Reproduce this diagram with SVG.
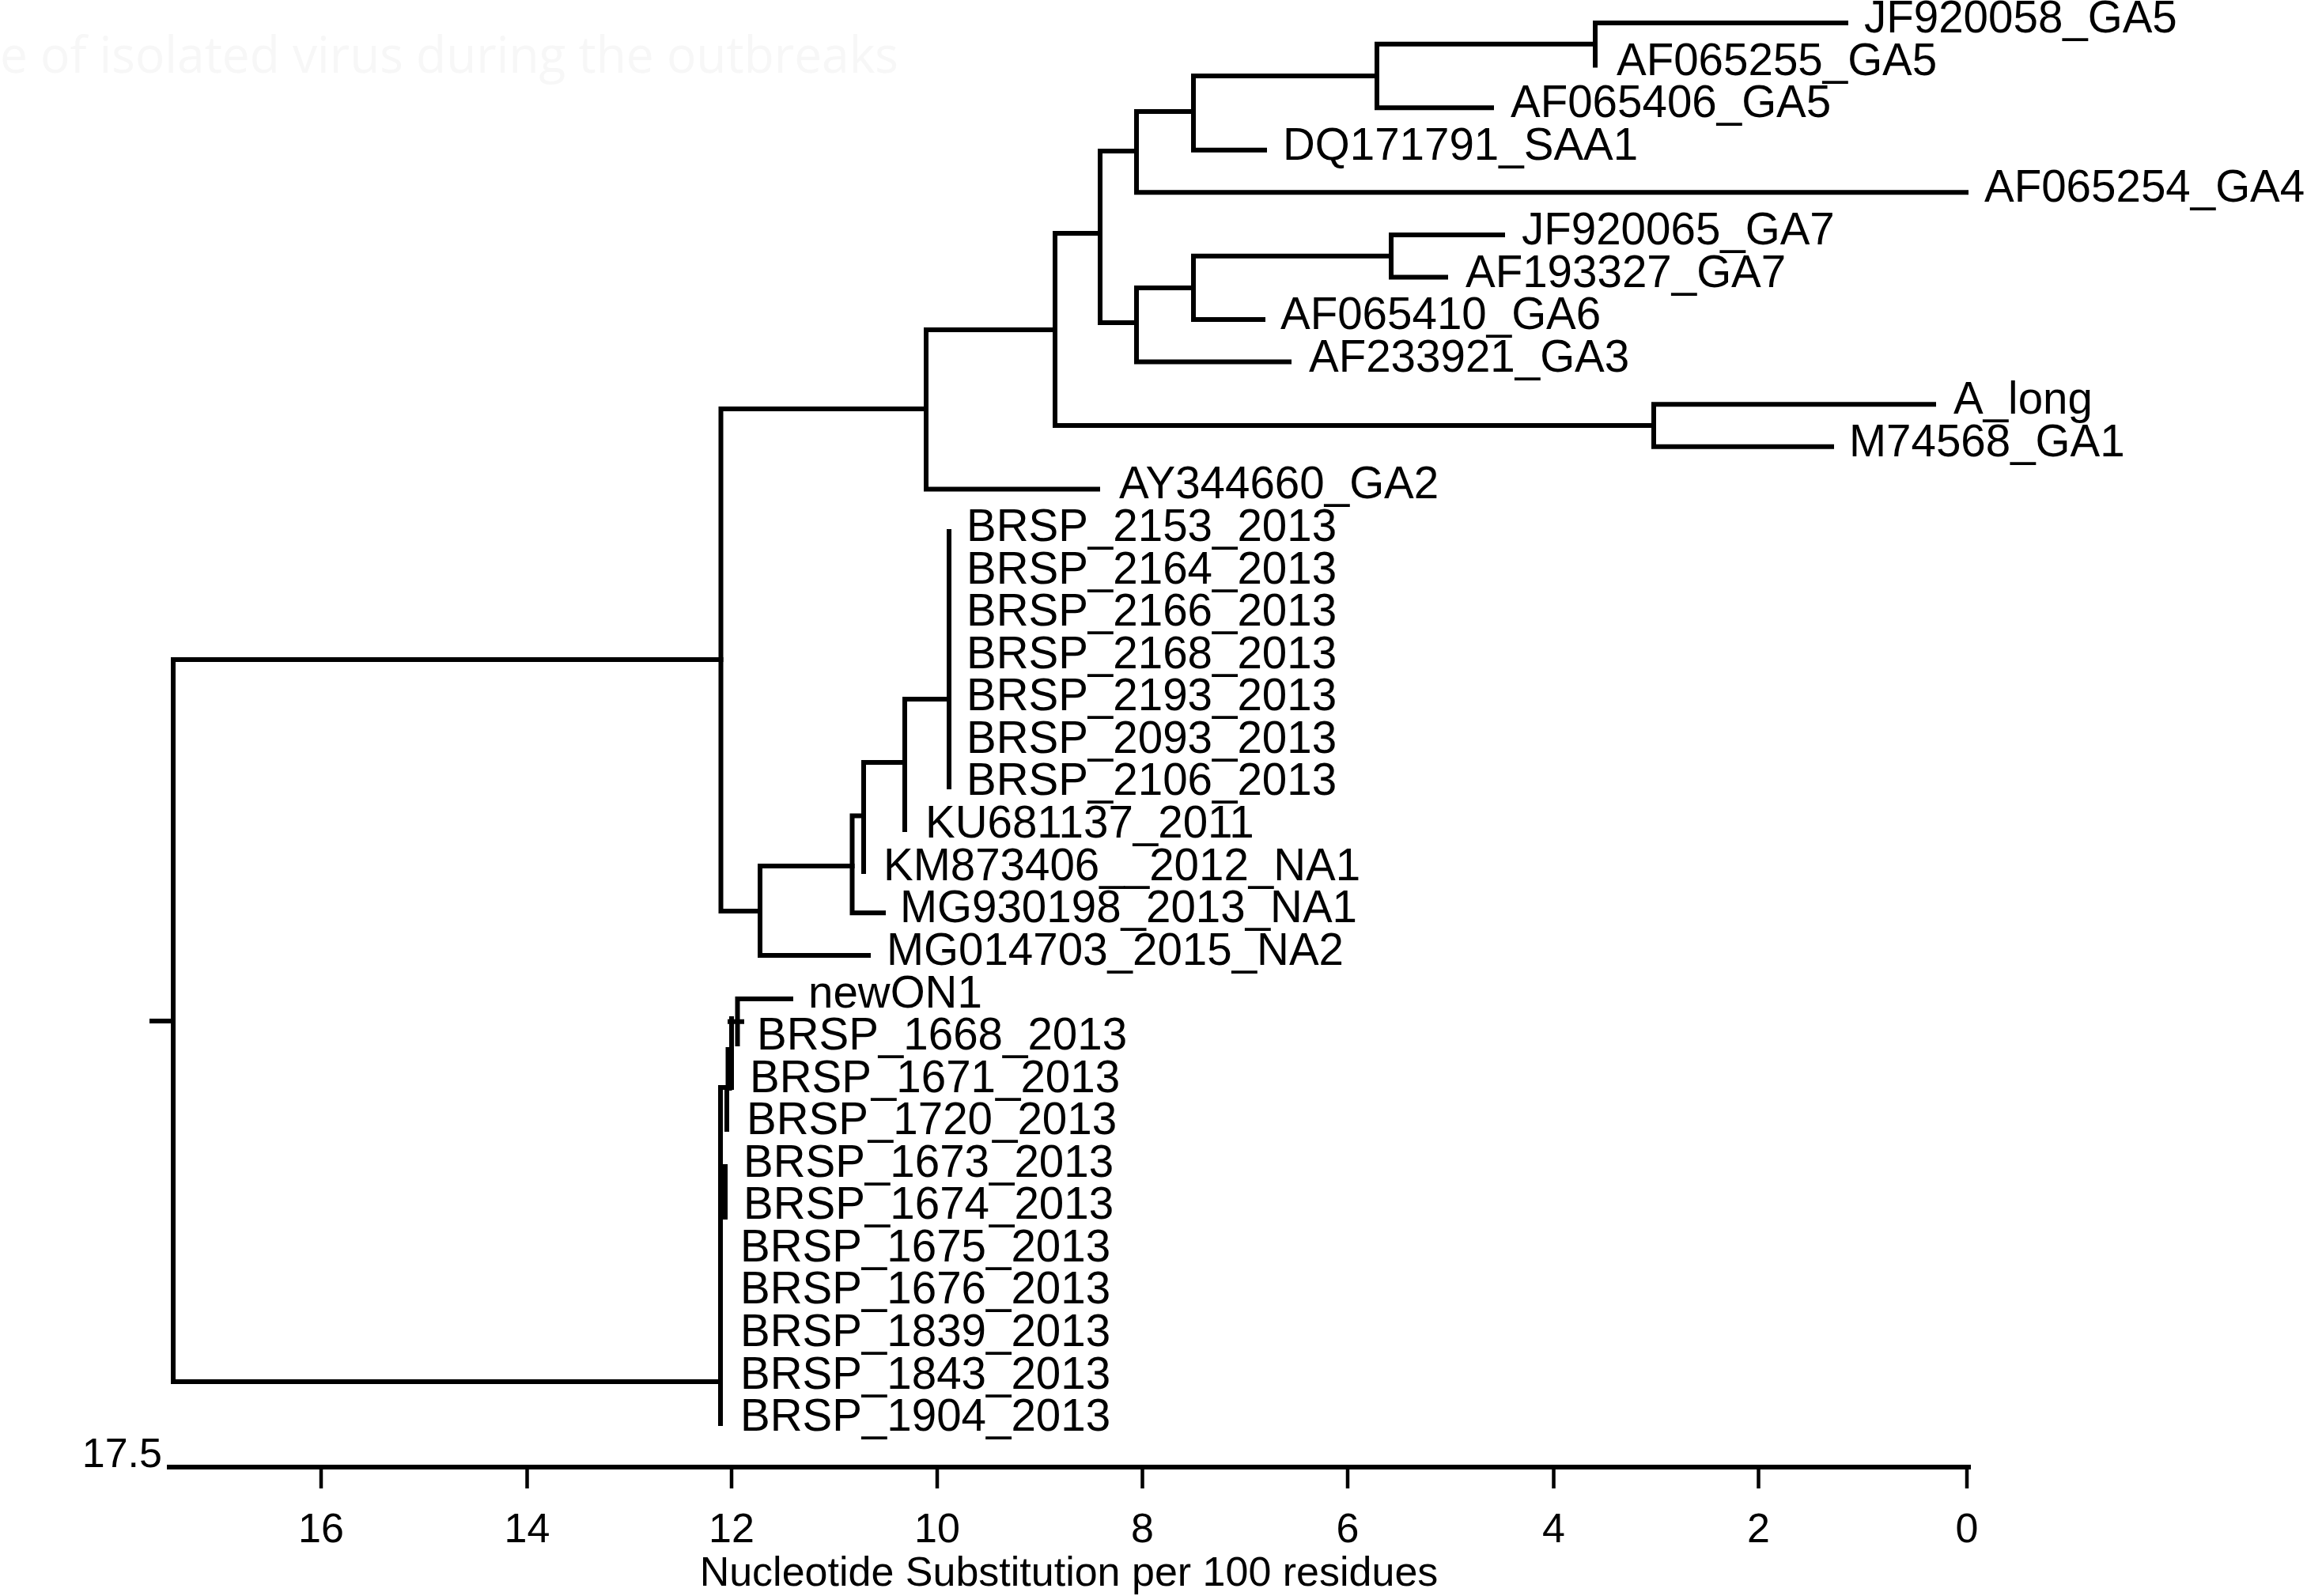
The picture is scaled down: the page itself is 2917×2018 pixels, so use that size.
<svg xmlns="http://www.w3.org/2000/svg" width="2917" height="2018" viewBox="0 0 2917 2018">
<style>
.br{fill:none;stroke:#000;stroke-width:6;stroke-linecap:square}
.lb{font-family:"Liberation Sans",Arial,sans-serif;font-size:56.5px;fill:#000}
.ax{font-family:"Liberation Sans",Arial,sans-serif;font-size:52px;fill:#000}
.tk{fill:none;stroke:#000;stroke-width:4.5}
</style>
<rect width="2917" height="2018" fill="#fff"/>
<text x="0" y="92" font-family="'Open Sans',sans-serif" font-size="64" fill="#f7f7f7" textLength="1136" lengthAdjust="spacingAndGlyphs">e of isolated virus during the outbreaks</text>
<g id="connectors">
<path class="br" d="M192,1291H219M219,834V1747M219,834H911.5M219,1747H911"/>
<path class="br" d="M911.5,517V1152M911.5,517H1171M911.5,1152H961"/>
<path class="br" d="M1171,417V618.4M1171,417H1334M1171,618.4H1388"/>
<path class="br" d="M1334,295V538M1334,295H1391M1334,538H2091"/>
<path class="br" d="M2091,511.2V564.8M2091,511.2H2445M2091,564.8H2316"/>
<path class="br" d="M1391,191V408M1391,191H1437M1391,408H1437"/>
<path class="br" d="M1437,141V243.3M1437,141H1509M1437,243.3H2486"/>
<path class="br" d="M1509,96V189.7M1509,96H1741M1509,189.7H1599"/>
<path class="br" d="M1741,55.8V136.2M1741,55.8H2017M1741,136.2H1886"/>
<path class="br" d="M2017,29V82.6M2017,29H2334"/>
<path class="br" d="M1437,364V457.6M1437,364H1509M1437,457.6H1630"/>
<path class="br" d="M1509,323.7V404.1M1509,323.7H1759M1509,404.1H1597"/>
<path class="br" d="M1759,296.9V350.5M1759,296.9H1900M1759,350.5H1828"/>
<path class="br" d="M961,1095V1208M961,1095H1077.5M961,1208H1098"/>
<path class="br" d="M1077.5,1031.5V1154.2M1077.5,1031.5H1092M1077.5,1154.2H1117"/>
<path class="br" d="M1092,964V1102M1092,964H1144"/>
<path class="br" d="M1144,884V1049M1144,884H1200"/>
<path class="br" d="M1200,672V995"/>
<path class="br" d="M911,1375V1800M919,1375V1428M911,1375H925M925,1288V1375M923,1291.7H938M932.5,1263V1320M932.5,1263H1000"/>
<path class="br" style="stroke-width:10" d="M915,1477V1537"/>
<path class="br" style="stroke-width:8" d="M921.5,1328V1375"/>
</g>
<g id="leaves">
<g id="n-JF920058_GA5"><text class="lb" x="2357" y="41">JF920058_GA5</text></g>
<g id="n-AF065255_GA5"><text class="lb" x="2044" y="94.6">AF065255_GA5</text></g>
<g id="n-AF065406_GA5"><text class="lb" x="1910" y="148.2">AF065406_GA5</text></g>
<g id="n-DQ171791_SAA1"><text class="lb" x="1622" y="201.7">DQ171791_SAA1</text></g>
<g id="n-AF065254_GA4"><text class="lb" x="2509" y="255.3">AF065254_GA4</text></g>
<g id="n-JF920065_GA7"><text class="lb" x="1924" y="308.9">JF920065_GA7</text></g>
<g id="n-AF193327_GA7"><text class="lb" x="1853" y="362.5">AF193327_GA7</text></g>
<g id="n-AF065410_GA6"><text class="lb" x="1619" y="416.1">AF065410_GA6</text></g>
<g id="n-AF233921_GA3"><text class="lb" x="1655" y="469.6">AF233921_GA3</text></g>
<g id="n-A_long"><text class="lb" x="2470" y="523.2">A_long</text></g>
<g id="n-M74568_GA1"><text class="lb" x="2338" y="576.8">M74568_GA1</text></g>
<g id="n-AY344660_GA2"><text class="lb" x="1415" y="630.4">AY344660_GA2</text></g>
<g id="n-BRSP_2153_2013"><text class="lb" x="1222" y="684">BRSP_2153_2013</text></g>
<g id="n-BRSP_2164_2013"><text class="lb" x="1222" y="737.5">BRSP_2164_2013</text></g>
<g id="n-BRSP_2166_2013"><text class="lb" x="1222" y="791.1">BRSP_2166_2013</text></g>
<g id="n-BRSP_2168_2013"><text class="lb" x="1222" y="844.7">BRSP_2168_2013</text></g>
<g id="n-BRSP_2193_2013"><text class="lb" x="1222" y="898.3">BRSP_2193_2013</text></g>
<g id="n-BRSP_2093_2013"><text class="lb" x="1222" y="951.9">BRSP_2093_2013</text></g>
<g id="n-BRSP_2106_2013"><text class="lb" x="1222" y="1005.4">BRSP_2106_2013</text></g>
<g id="n-KU681137_2011"><text class="lb" x="1170" y="1059">KU681137_2011</text></g>
<g id="n-KM873406_2012_NA1"><text class="lb" x="1117" y="1112.6">KM873406__2012_NA1</text></g>
<g id="n-MG930198_2013_NA1"><text class="lb" x="1138" y="1166.2">MG930198_2013_NA1</text></g>
<g id="n-MG014703_2015_NA2"><text class="lb" x="1121" y="1219.8">MG014703_2015_NA2</text></g>
<g id="n-newON1"><text class="lb" x="1022" y="1274.3">newON1</text></g>
<g id="n-BRSP_1668_2013"><text class="lb" x="957" y="1326.9">BRSP_1668_2013</text></g>
<g id="n-BRSP_1671_2013"><text class="lb" x="948" y="1380.5">BRSP_1671_2013</text></g>
<g id="n-BRSP_1720_2013"><text class="lb" x="944" y="1434.1">BRSP_1720_2013</text></g>
<g id="n-BRSP_1673_2013"><text class="lb" x="940" y="1487.7">BRSP_1673_2013</text></g>
<g id="n-BRSP_1674_2013"><text class="lb" x="940" y="1541.2">BRSP_1674_2013</text></g>
<g id="n-BRSP_1675_2013"><text class="lb" x="936" y="1594.8">BRSP_1675_2013</text></g>
<g id="n-BRSP_1676_2013"><text class="lb" x="936" y="1648.4">BRSP_1676_2013</text></g>
<g id="n-BRSP_1839_2013"><text class="lb" x="936" y="1702">BRSP_1839_2013</text></g>
<g id="n-BRSP_1843_2013"><text class="lb" x="936" y="1755.6">BRSP_1843_2013</text></g>
<g id="n-BRSP_1904_2013"><text class="lb" x="936" y="1809.1">BRSP_1904_2013</text></g>
</g>
<g id="axis">
<path class="br" d="M214,1855H2489"/>
<path class="tk" d="M406,1855V1882M666.5,1855V1882M925,1855V1882M1185,1855V1882M1444.5,1855V1882M1704,1855V1882M1964.5,1855V1882M2223.5,1855V1882M2487,1855V1882"/>
<g class="ax" text-anchor="middle">
<text x="406" y="1950">16</text>
<text x="666.5" y="1950">14</text>
<text x="925" y="1950">12</text>
<text x="1185" y="1950">10</text>
<text x="1444.5" y="1950">8</text>
<text x="1704" y="1950">6</text>
<text x="1964.5" y="1950">4</text>
<text x="2223.5" y="1950">2</text>
<text x="2487" y="1950">0</text>
<text x="1351.5" y="2005">Nucleotide Substitution per 100 residues</text>
</g>
<text class="ax" x="205" y="1855" text-anchor="end">17.5</text>
</g>
</svg>
